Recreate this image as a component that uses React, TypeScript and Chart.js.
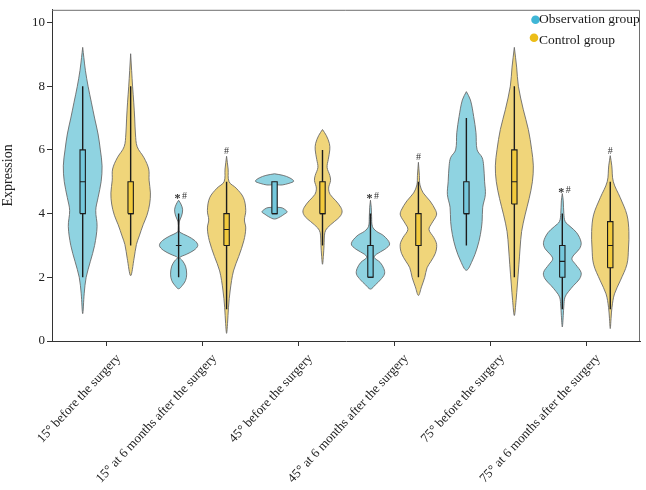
import React, { useEffect, useRef } from "react";
import { Chart, registerables } from "chart.js";

Chart.register(...registerables);

// ---------------- data ----------------
const categories = [
  "15° before the surgery",
  "15° at 6 months after the surgery",
  "45° before the surgery",
  "45° at 6 months after the surgery",
  "75° before the surgery",
  "75° at 6 months after the surgery",
];

const groupNames = ["Observation group", "Control group"];

const yTicks = [0, 2, 4, 6, 8, 10];

// violin density profiles: [expression value, relative half-width], top tip -> bottom tip
const observationProfiles: number[][][] = [
  [[9.22, 0], [8.9, 0.06], [8.5, 0.14], [8, 0.28], [7.5, 0.45], [7, 0.62], [6.5, 0.8], [6, 0.92], [5.5, 1.01], [5, 0.96], [4.5, 0.8], [4.1, 0.68], [3.6, 0.75], [3, 0.62], [2.5, 0.4], [2, 0.18], [1.5, 0.08], [0.86, 0]],
  [[4.42, 0], [4.3, 0.12], [4.12, 0.21], [3.92, 0.15], [3.74, 0.03], [3.5, 0.02], [3.42, 0.05], [3.3, 0.45], [3.15, 0.85], [3.0, 1.0], [2.85, 0.8], [2.72, 0.4], [2.62, 0.06], [2.52, 0.2], [2.35, 0.36], [2.1, 0.42], [1.9, 0.36], [1.75, 0.2], [1.64, 0]],
  [[5.25, 0], [5.2, 0.45], [5.12, 0.8], [5.02, 1.0], [4.95, 0.75], [4.9, 0.4], [4.87, 0], [4.24, 0], [4.18, 0.4], [4.1, 0.6], [4.05, 0.66], [3.98, 0.5], [3.9, 0.3], [3.83, 0]],
  [[4.42, 0], [4.2, 0.04], [3.9, 0.06], [3.6, 0.1], [3.45, 0.3], [3.3, 0.7], [3.05, 1.0], [2.88, 0.75], [2.72, 0.3], [2.62, 0.2], [2.47, 0.5], [2.27, 0.7], [2.1, 0.73], [1.92, 0.52], [1.76, 0.25], [1.63, 0]],
  [[7.83, 0], [7.57, 0.21], [7.05, 0.38], [6.54, 0.5], [6.0, 0.56], [5.76, 0.82], [5.5, 0.9], [5.0, 0.95], [4.6, 0.99], [4.2, 0.85], [3.75, 0.82], [3.34, 0.73], [2.92, 0.56], [2.51, 0.3], [2.22, 0]],
  [[4.63, 0], [4.4, 0.05], [4.0, 0.08], [3.75, 0.15], [3.6, 0.4], [3.4, 0.75], [3.1, 0.98], [2.9, 0.9], [2.7, 0.6], [2.57, 0.5], [2.4, 0.7], [2.15, 0.98], [1.95, 0.9], [1.75, 0.6], [1.55, 0.32], [1.38, 0.14], [1.1, 0.08], [0.8, 0.05], [0.44, 0]],
];

const controlProfiles: number[][][] = [
  [[9.02, 0], [8.5, 0.05], [8, 0.1], [7.5, 0.16], [7, 0.21], [6.5, 0.25], [6.1, 0.34], [5.75, 0.7], [5.4, 0.94], [5.05, 0.96], [4.65, 1.03], [4.3, 0.99], [3.95, 0.85], [3.65, 0.65], [3.3, 0.45], [3.03, 0.3], [2.6, 0.18], [2.05, 0]],
  [[5.8, 0], [5.4, 0.08], [5.0, 0.13], [4.8, 0.5], [4.5, 0.88], [4.1, 1.0], [3.8, 0.93], [3.55, 1.0], [3.15, 0.9], [2.65, 0.63], [2.2, 0.36], [1.6, 0.19], [1.06, 0.1], [0.55, 0.05], [0.24, 0]],
  [[6.64, 0], [6.45, 0.2], [6.2, 0.36], [6.0, 0.38], [5.7, 0.3], [5.45, 0.24], [5.2, 0.38], [5.04, 0.42], [4.8, 0.32], [4.6, 0.4], [4.4, 0.7], [4.2, 0.95], [4.05, 1.02], [3.9, 0.9], [3.75, 0.62], [3.55, 0.25], [3.4, 0.12], [3.0, 0.08], [2.7, 0.05], [2.41, 0]],
  [[5.61, 0], [5.2, 0.05], [4.9, 0.08], [4.65, 0.25], [4.4, 0.6], [4.1, 0.9], [3.95, 0.94], [3.7, 0.7], [3.5, 0.55], [3.25, 0.8], [3.03, 0.95], [2.75, 0.88], [2.5, 0.65], [2.3, 0.45], [2.0, 0.33], [1.7, 0.16], [1.43, 0]],
  [[9.22, 0], [8.6, 0.12], [8, 0.21], [7.26, 0.47], [6.64, 0.73], [6.02, 0.9], [5.5, 0.99], [5.0, 0.94], [4.47, 0.77], [3.96, 0.56], [3.44, 0.38], [2.92, 0.3], [2.41, 0.24], [1.79, 0.16], [1.27, 0.09], [0.8, 0]],
  [[5.82, 0], [5.5, 0.08], [5.0, 0.16], [4.5, 0.52], [3.96, 0.87], [3.44, 0.97], [2.92, 0.95], [2.41, 0.87], [1.89, 0.52], [1.48, 0.22], [1.06, 0.09], [0.7, 0.04], [0.39, 0]],
];

// box plots: [whisker low, Q1, median, Q3, whisker high]
const observationBoxes = [
  [2, 4, 5, 6, 8],
  [2, 3, 3, 3, 4],
  [4, 4, 4, 5, 5],
  [2, 2, 2, 3, 4],
  [3, 4, 4, 5, 7],
  [1, 2, 2.5, 3, 4],
];
const controlBoxes = [
  [3, 4, 4, 5, 8],
  [1, 3, 3.5, 4, 5],
  [3, 4, 4, 5, 6],
  [2, 3, 3, 4, 5],
  [2, 4.3, 5, 6, 8],
  [1, 2.3, 3, 3.75, 5],
];

// significance marks above each violin
const observationMarks = ["", "*#", "", "*#", "", "*#"];
const controlMarks = ["", "#", "", "#", "", "#"];

// ---------------- styling / layout constants ----------------
const FONT = "'Liberation Serif', 'Times New Roman', serif";
const GROUP_OFFSET = 0.25; // x-units from category center
const VIOLIN_WIDTH = 0.2; // x-units for relative density 1
const BOX_HALF = 0.028; // x-units
const OBS_FILL = "#8fd3e1";
const CTRL_FILL = "#f0d57a";
const OBS_BOX = "#74c8dc";
const CTRL_BOX = "#f2ca3c";
const OBS_DOT = "#3fb6d6";
const CTRL_DOT = "#ecbd18";
const OUTLINE = "#6a6a6a";
const DARK = "#1c1c1c";

export default function App() {
  const ref = useRef<HTMLCanvasElement>(null);

  useEffect(() => {
    document.body.style.margin = "0";
    const canvas = ref.current;
    if (!canvas) return;

    const groups = [
      { name: groupNames[0], profiles: observationProfiles, boxes: observationBoxes, marks: observationMarks, fill: OBS_FILL, boxFill: OBS_BOX, dot: OBS_DOT, offset: -GROUP_OFFSET },
      { name: groupNames[1], profiles: controlProfiles, boxes: controlBoxes, marks: controlMarks, fill: CTRL_FILL, boxFill: CTRL_BOX, dot: CTRL_DOT, offset: GROUP_OFFSET },
    ];

    const datasets: any[] = [];
    groups.forEach((g) => {
      g.profiles.forEach((prof, i) => {
        const cx = i + g.offset;
        const left = prof.map(([v, d]) => ({ x: cx - d * VIOLIN_WIDTH, y: v }));
        const right = prof
          .slice(0, -1)
          .reverse()
          .map(([v, d]) => ({ x: cx + d * VIOLIN_WIDTH, y: v }));
        datasets.push({
          label: g.name,
          data: [...left, ...right],
          showLine: true,
          fill: "shape",
          backgroundColor: g.fill,
          borderColor: OUTLINE,
          borderWidth: 0.9,
          pointRadius: 0,
          tension: 0.35,
          order: 3,
        });
        const [lo, q1, med, q3, hi] = g.boxes[i];
        datasets.push({
          label: g.name + " whisker",
          data: [{ x: cx, y: lo }, { x: cx, y: hi }],
          showLine: true,
          borderColor: DARK,
          borderWidth: 1.4,
          pointRadius: 0,
          fill: false,
          order: 2,
        });
        datasets.push({
          label: g.name + " box",
          data: [
            { x: cx - BOX_HALF, y: q1 },
            { x: cx + BOX_HALF, y: q1 },
            { x: cx + BOX_HALF, y: q3 },
            { x: cx - BOX_HALF, y: q3 },
            { x: cx - BOX_HALF, y: q1 },
          ],
          showLine: true,
          fill: "shape",
          backgroundColor: g.boxFill,
          borderColor: DARK,
          borderWidth: 1.1,
          pointRadius: 0,
          tension: 0,
          order: 1,
        });
        datasets.push({
          label: g.name + " median",
          data: [{ x: cx - BOX_HALF, y: med }, { x: cx + BOX_HALF, y: med }],
          showLine: true,
          borderColor: DARK,
          borderWidth: 1.1,
          pointRadius: 0,
          fill: false,
          order: 0,
        });
      });
    });

    const framePlugin = {
      id: "frame",
      afterDatasetsDraw(chart: any) {
        const { ctx, chartArea } = chart;
        ctx.save();
        ctx.strokeStyle = "#6e6e6e";
        ctx.lineWidth = 1;
        ctx.beginPath();
        ctx.moveTo(chartArea.left, chartArea.top + 0.5);
        ctx.lineTo(chartArea.right - 0.5, chartArea.top + 0.5);
        ctx.lineTo(chartArea.right - 0.5, chartArea.bottom);
        ctx.stroke();
        ctx.restore();
      },
    };

    const marksPlugin = {
      id: "marks",
      afterDatasetsDraw(chart: any) {
        const { ctx } = chart;
        const xs = chart.scales.x;
        const ys = chart.scales.y;
        ctx.save();
        ctx.fillStyle = "#333";
        ctx.textBaseline = "alphabetic";
        groups.forEach((g) => {
          g.marks.forEach((m, i) => {
            if (!m) return;
            const px = xs.getPixelForValue(i + g.offset);
            const top = ys.getPixelForValue(g.profiles[i][0][0]);
            ctx.textAlign = "center";
            if (m.startsWith("*")) {
              ctx.font = `bold 12px ${FONT}`;
              ctx.fillText("*", px - 1, top + 2);
              ctx.font = `10px ${FONT}`;
              ctx.fillText("#", px + 6, top - 1);
            } else {
              ctx.font = `10px ${FONT}`;
              ctx.fillText(m, px, top - 2);
            }
          });
        });
        ctx.restore();
      },
    };

    const legendPlugin = {
      id: "miniLegend",
      afterDraw(chart: any) {
        const { ctx, chartArea } = chart;
        ctx.save();
        ctx.font = `13.5px ${FONT}`;
        ctx.textAlign = "left";
        ctx.textBaseline = "alphabetic";
        const tx = chartArea.right - 101;
        const rows = [
          { y: chartArea.top + 13.5, dy: -3.5, dx: -3.5 },
          { y: chartArea.top + 34.5, dy: -6.5, dx: -5 },
        ];
        groups.forEach((g, k) => {
          const r = rows[k];
          ctx.fillStyle = g.dot;
          ctx.beginPath();
          ctx.arc(tx + r.dx, r.y + r.dy, 4.3, 0, Math.PI * 2);
          ctx.fill();
          ctx.fillStyle = "#1a1a1a";
          ctx.fillText(g.name, tx, r.y);
        });
        ctx.restore();
      },
    };

    const chart = new Chart(canvas.getContext("2d")!, {
      type: "scatter",
      data: { datasets },
      options: {
        animation: false,
        responsive: false,
        devicePixelRatio: 1,
        events: [],
        layout: { padding: { top: 5, right: 6, left: 0, bottom: 0 } },
        plugins: {
          legend: { display: false },
          tooltip: { enabled: false },
        },
        scales: {
          x: {
            type: "linear",
            min: -0.57,
            max: 5.56,
            afterBuildTicks: (axis: any) => {
              axis.ticks = categories.map((_, i) => ({ value: i }));
            },
            afterFit: (s: any) => {
              s.height = 149;
            },
            grid: { display: true, drawOnChartArea: false, drawTicks: true, tickLength: 5, color: "#333" },
            border: { display: true, color: "#333", width: 1 },
            ticks: {
              autoSkip: false,
              minRotation: 47,
              maxRotation: 47,
              padding: 5,
              labelOffset: 12,
              color: "#222",
              font: { family: FONT, size: 13 },
              callback: (v: any) => categories[v] ?? "",
            },
          },
          y: {
            type: "linear",
            min: 0,
            max: 10.4,
            afterBuildTicks: (axis: any) => {
              axis.ticks = yTicks.map((v) => ({ value: v }));
            },
            afterFit: (s: any) => {
              s.width = 52;
            },
            grid: { display: true, drawOnChartArea: false, drawTicks: true, tickLength: 5, color: "#333" },
            border: { display: true, color: "#333", width: 1 },
            title: {
              display: true,
              text: "Expression",
              color: "#222",
              font: { family: FONT, size: 14 },
              padding: { top: 0, bottom: 0 },
            },
            ticks: {
              padding: 2,
              color: "#222",
              font: { family: FONT, size: 13 },
            },
          },
        },
      } as any,
      plugins: [framePlugin, marksPlugin, legendPlugin],
    });

    return () => {
      chart.destroy();
    };
  }, []);

  return <canvas ref={ref} width={646} height={490} style={{ display: "block", width: 646, height: 490 }} />;
}
